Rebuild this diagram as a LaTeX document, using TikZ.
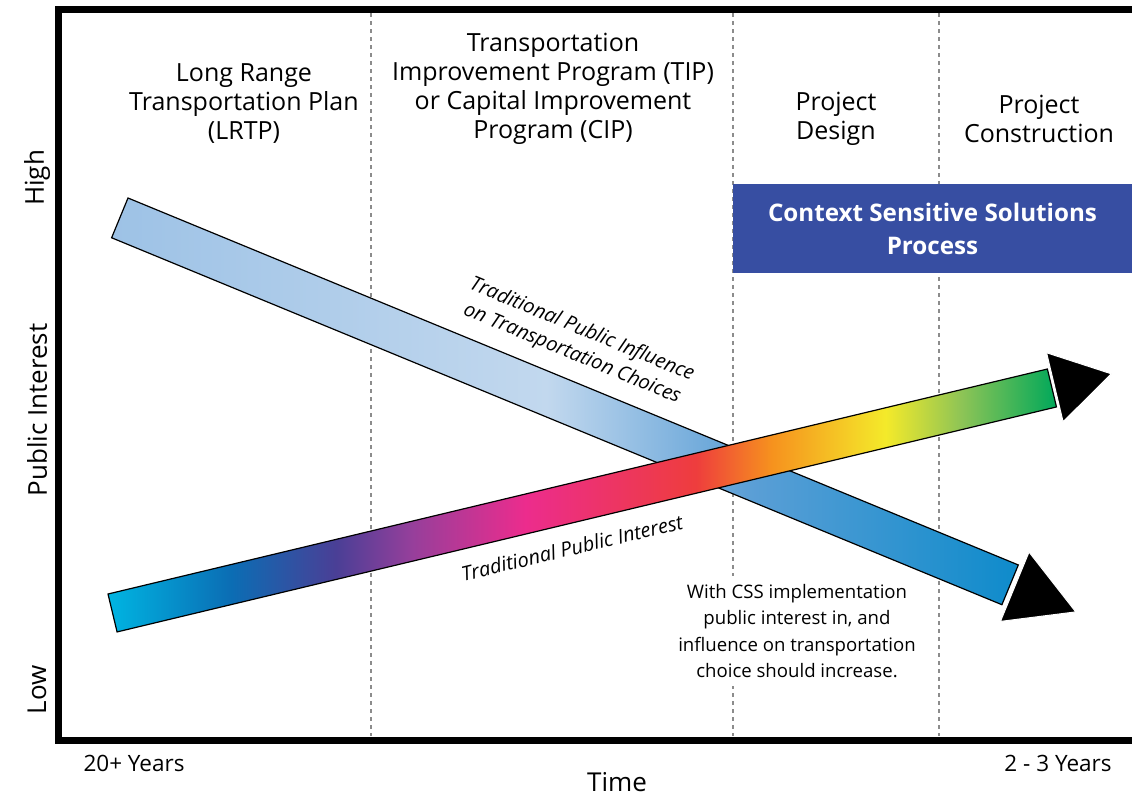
\documentclass[tikz,border=0pt]{standalone}
\usepackage{fontspec}
\setmainfont{Open Sans}

\definecolor{dashgray}{HTML}{8C8C8C}
\definecolor{cssblue}{HTML}{374EA2}
% colours of the influence band
\definecolor{infA}{HTML}{9DC2E6}
\definecolor{infB}{HTML}{C2D8EE}
\definecolor{infC}{HTML}{5C9FD6}
\definecolor{infD}{HTML}{0E8BCB}
% colours of the interest band
\definecolor{intA}{HTML}{00B5E2}
\definecolor{intB}{HTML}{0B6DB4}
\definecolor{intC}{HTML}{4A3F96}
\definecolor{intD}{HTML}{963F9B}
\definecolor{intE}{HTML}{EC2C8D}
\definecolor{intF}{HTML}{EE3D3D}
\definecolor{intG}{HTML}{F6921E}
\definecolor{intH}{HTML}{F4EA2A}
\definecolor{intI}{HTML}{8DC456}
\definecolor{intJ}{HTML}{00A85A}

\pgfdeclarehorizontalshading{influence}{100bp}{color(0bp)=(infA); color(25bp)=(infA); color(49bp)=(infB); color(60bp)=(infC); color(75bp)=(infD); color(100bp)=(infD)}
\pgfdeclarehorizontalshading{interest}{100bp}{color(0bp)=(intA); color(25bp)=(intA); color(31.5bp)=(intB); color(37bp)=(intC); color(41bp)=(intD); color(47bp)=(intE); color(56bp)=(intF); color(60bp)=(intG); color(66bp)=(intH); color(70bp)=(intI); color(75bp)=(intJ); color(100bp)=(intJ)}

\begin{document}
\begin{tikzpicture}[x=1pt,y=-1pt,
  phase/.style={align=center,font=\fontsize{25}{29}\selectfont},
  axislabel/.style={font=\fontsize{26}{30}\selectfont},
  yearlabel/.style={font=\fontsize{22.5}{26}\selectfont},
  bandlabel/.style={align=center,font=\fontsize{20}{26}\selectfont\itshape},
  divider/.style={dashgray,line width=1.6pt,dash pattern=on 4pt off 4pt},
  band/.style={draw=black,line width=1.2pt},
  head/.style={fill=black,draw=white,line width=1pt}]
\useasboundingbox (0,0) rectangle (1132,796);

% Phase dividers
\foreach \x in {371,733,939}
  \draw[divider] (\x,13) -- (\x,736);

% Frame
\draw[line width=7pt,line join=miter] (1132,9) -- (58,9) -- (58,740) -- (1132,740);

% Phases
\node[phase] (lrtp) at (244,104) {Long Range\\Transportation Plan\\(LRTP)};
\node[phase] (tip) at (553,88.5) {Transportation\\Improvement Program (TIP)\\or Capital Improvement\\Program (CIP)};
\node[phase] (design) at (836,118.5) {Project\\Design};
\node[phase] (construction) at (1039,118.5) {Project\\Construction};

% CSS process
\node[fill=cssblue,text=white,minimum width=400pt,minimum height=89pt,align=center,
  font=\fontsize{24.2}{33}\selectfont\bfseries] (css) at (932.5,228.5)
  {Context Sensitive Solutions\\Process};

% Traditional public influence
\begin{scope}[shift={(128,198)},rotate=-22.4]
\shade[band,shading=influence] (0,0) rectangle (963,43);
\fill[head] (968,-16) -- (1034,21.5) -- (968,59) -- cycle;
\node[bandlabel,rotate=-22.4] (influence) at (470,-38) {Traditional Public Influence\\on Transportation Choices};
\end{scope}

% Traditional public interest
\begin{scope}[shift={(108,594)},rotate=13.47]
\shade[band,shading=interest] (0,0) rectangle (966,39);
\fill[head] (969,-16) -- (1027,19.5) -- (969,55) -- cycle;
\node[bandlabel,rotate=13.47] (interest) at (462,63) {Traditional Public Interest};
\end{scope}

% Note
\node[fill=white,align=center,inner sep=8pt,font=\fontsize{18.6}{26.5}\selectfont] (note) at (797,631)
  {With CSS implementation\\public interest in, and\\influence on transportation\\choice should increase.};

% Axis labels
\node[axislabel,rotate=90] (high) at (37,178) {High};
\node[axislabel,rotate=90] (public) at (37,410) {Public Interest};
\node[axislabel,rotate=90] (low) at (37,690) {Low};
\node[yearlabel] (far) at (134,763) {20+ Years};
\node[axislabel] (time) at (617,782) {Time};
\node[yearlabel] (near) at (1058,763) {2 - 3 Years};
\end{tikzpicture}
\end{document}
